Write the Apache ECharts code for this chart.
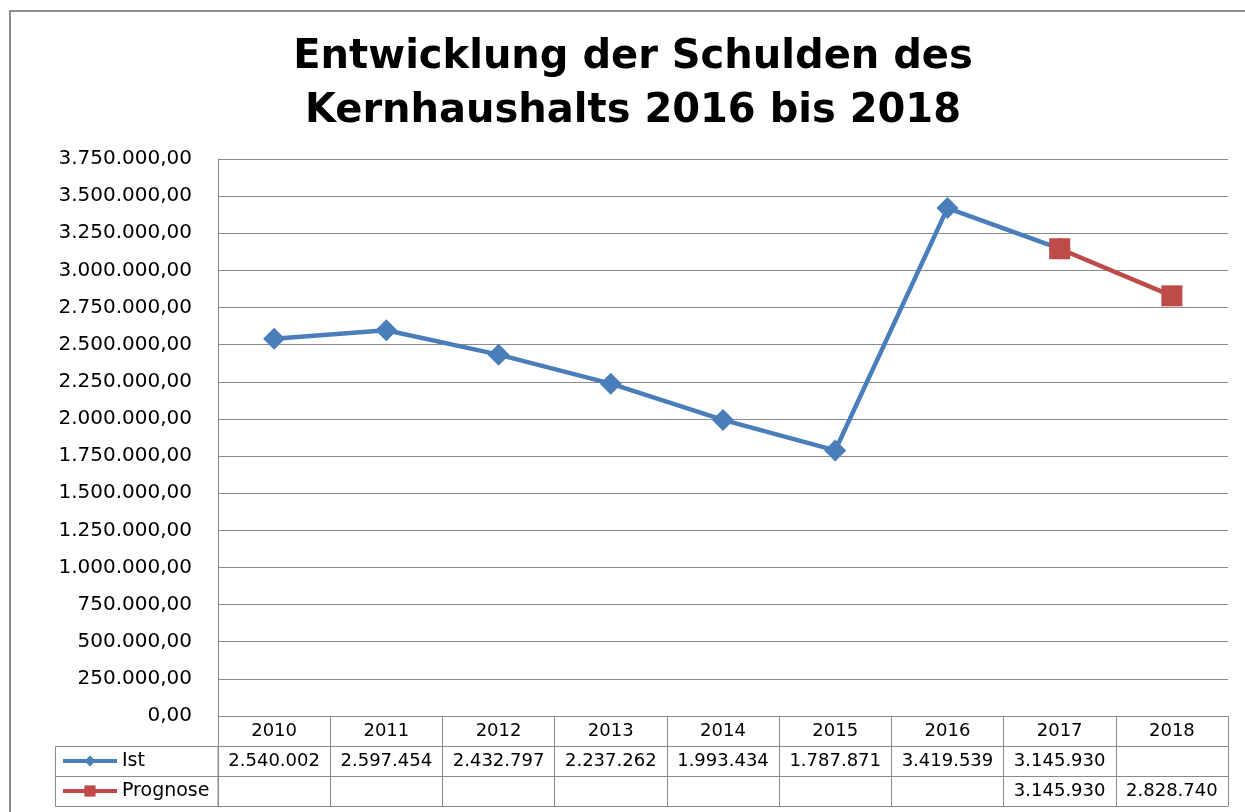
<!DOCTYPE html>
<html>
<head>
<meta charset="utf-8">
<script src="https://cdn.jsdelivr.net/npm/echarts@6/dist/echarts.min.js"></script>
<style>
    html, body { margin: 0; padding: 0; background: #fff; }
    #tb1 { width: 1245px; height: 812px; }
</style>
</head>
<body>
<div id="tb1"></div>
<script>
var years = ['2010', '2011', '2012', '2013', '2014', '2015', '2016', '2017', '2018'];
var ist = [2540002, 2597454, 2432797, 2237262, 1993434, 1787871, 3419539, 3145930, null];
var prognose = [null, null, null, null, null, null, null, 3145930, 2828740];

// Tausenderpunkte wie im Original
function dots(v) {
    return String(Math.round(v)).replace(/\B(?=(\d{3})+(?!\d))/g, '.');
}
function cell(arr) {
    return function (val, idx) {
        return arr[idx] == null ? '' : dots(arr[idx]);
    };
}

var gridLeft = 218, gridTop = 159, gridW = 1010, gridH = 557;
var rowH = [30, 30, 30];
var grey = '#8a8a8a';
var font = 'DejaVu Sans, Liberation Sans, sans-serif';

var tb1 = echarts.init(document.getElementById('tb1'));

tb1.setOption({
    animation: false,
    title: {
        text: 'Entwicklung der Schulden des\nKernhaushalts 2016 bis 2018',
        left: 633,
        top: 31,
        padding: 0,
        textAlign: 'center',
        textStyle: { fontFamily: font, fontSize: 40, fontWeight: 'bold', lineHeight: 54, color: '#000' }
    },
    legend: {
        orient: 'vertical',
        left: 61,
        top: gridTop + gridH + rowH[0],
        itemWidth: 54,
        itemHeight: 14,
        itemGap: 0,
        padding: 0,
        lineStyle: { width: 4 },
        textStyle: { fontFamily: font, fontSize: 19, lineHeight: 30, color: '#000' },
        data: ['Ist', 'Prognose']
    },
    grid: { left: gridLeft, top: gridTop, width: gridW, height: gridH },
    xAxis: [{
        type: 'category',
        data: years,
        boundaryGap: true,
        axisLine: { lineStyle: { color: grey } },
        axisTick: { show: true, interval: 0, length: rowH[0] + rowH[1] + rowH[2], lineStyle: { color: grey } },
        axisLabel: { interval: 0, margin: 6, fontFamily: font, fontSize: 18, color: '#000' }
    }, {
        type: 'category',
        data: years,
        position: 'bottom',
        offset: rowH[0],
        axisLine: { lineStyle: { color: grey } },
        axisTick: { show: false },
        axisLabel: { interval: 0, margin: 6, fontFamily: font, fontSize: 18, color: '#000', formatter: cell(ist) }
    }, {
        type: 'category',
        data: years,
        position: 'bottom',
        offset: rowH[0] + rowH[1],
        axisLine: { lineStyle: { color: grey } },
        axisTick: { show: false },
        axisLabel: { interval: 0, margin: 6, fontFamily: font, fontSize: 18, color: '#000', formatter: cell(prognose) }
    }, {
        type: 'category',
        data: years,
        position: 'bottom',
        offset: rowH[0] + rowH[1] + rowH[2],
        axisLine: { lineStyle: { color: grey } },
        axisTick: { show: false },
        axisLabel: { show: false }
    }],
    yAxis: {
        type: 'value',
        min: 0,
        max: 3750000,
        interval: 250000,
        axisLine: { show: true, lineStyle: { color: grey } },
        axisTick: { show: false },
        splitLine: { lineStyle: { color: grey } },
        axisLabel: {
            margin: 26,
            fontFamily: font,
            fontSize: 20,
            color: '#000',
            formatter: function (v) { return dots(v) + ',00'; }
        }
    },
    graphic: [{
        // äußerer Rahmen
        type: 'rect',
        shape: { x: 10, y: 11, width: 1400, height: 1000 },
        style: { fill: 'none', stroke: '#8c8c8c', lineWidth: 2 },
        silent: true
    }, {
        // Legendenspalte der Datentabelle
        type: 'rect',
        shape: { x: 55.5, y: gridTop + gridH + rowH[0] + 0.5, width: gridLeft - 55.5, height: rowH[1] + rowH[2] },
        style: { fill: 'none', stroke: grey, lineWidth: 1 },
        silent: true
    }, {
        type: 'line',
        shape: { x1: 55.5, y1: gridTop + gridH + rowH[0] + rowH[1] + 0.5, x2: gridLeft, y2: gridTop + gridH + rowH[0] + rowH[1] + 0.5 },
        style: { stroke: grey, lineWidth: 1 },
        silent: true
    }],
    series: [{
        name: 'Ist',
        type: 'line',
        data: ist,
        symbol: 'diamond',
        symbolSize: 22,
        lineStyle: { width: 4.5, color: '#4A7EBB' },
        itemStyle: { color: '#4A7EBB' }
    }, {
        name: 'Prognose',
        type: 'line',
        data: prognose,
        symbol: 'rect',
        symbolSize: 21,
        lineStyle: { width: 4.5, color: '#BE4B48' },
        itemStyle: { color: '#BE4B48' }
    }]
});
</script>
</body>
</html>
